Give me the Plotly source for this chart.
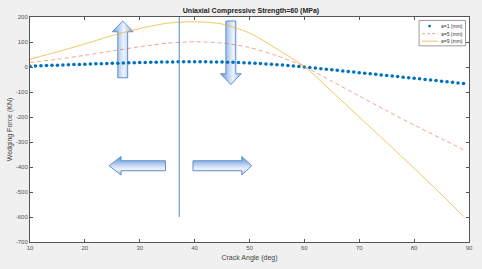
import plotly.graph_objects as go

# ---- data ----
angle_a1 = list(range(10, 90))
force_a1 = [3, 4, 5, 6, 7, 7, 8, 9, 10, 10,
            11, 12, 13, 13, 14, 15, 15, 16, 17, 17,
            18, 18, 19, 19, 20, 20, 20, 21, 21, 21,
            21, 21, 21, 20, 20, 20, 19, 19, 18, 17,
            16, 15, 14, 12, 11, 9, 8, 6, 4, 2,
            0, -2, -4, -7, -9, -11, -13, -16, -18, -20,
            -23, -25, -27, -29, -32, -34, -36, -38, -41, -43,
            -45, -47, -50, -52, -54, -57, -59, -61, -64, -66]

angle_lines = [10, 15, 20, 25, 30, 35, 40, 45, 50, 55, 60, 65, 70, 75, 80, 85, 89]
force_a5 = [18, 31, 47, 64, 81, 95, 101, 96, 78, 45, 2, -57, -116, -175, -232, -287, -331]
force_a9 = [31, 61, 92, 126, 154, 175, 181, 172, 136, 72, 2, -98, -200, -302, -405, -510, -598]

series_names = ["a=1 (mm)", "a=5 (mm)", "a=9 (mm)"]
title_text = "Uniaxial Compressive Strength=60 (MPa)"
x_title = "Crack Angle (deg)"
y_title = "Wedging Force (KN)"
x_ticks = [10, 20, 30, 40, 50, 60, 70, 80, 90]
y_ticks = [200, 100, 0, -100, -200, -300, -400, -500, -600, -700]
y_ticklabels = ["200", "100", "0", "-100", "-200", "-300", "-400", "-500", "-600", "-700"]

# vertical marker line
vline_x = 37.2
vline_y = [200, -600]

# decorative block arrows (outline polygons in data units)
arrow_up = ([26.9, 28.8, 27.8, 27.8, 26.0, 26.0, 25.0, 26.9],
            [184, 141, 141, -43, -43, 141, 141, 184])
arrow_down = ([45.7, 47.5, 47.5, 48.5, 46.6, 44.7, 45.7, 45.7],
              [184, 184, -27, -27, -70, -27, -27, 184])
arrow_left = ([24.4, 26.6, 26.6, 34.7, 34.7, 26.6, 26.6, 24.4],
              [-395, -358, -375, -375, -415, -415, -432, -395])
arrow_right = ([39.7, 48.6, 48.6, 50.4, 48.6, 48.6, 39.7, 39.7],
               [-375, -375, -358, -395, -432, -415, -415, -375])

blue = "#0072BD"
orange = "#D95319"
yellow = "#EDB120"
font_family = "Liberation Sans, Arial"

W, H = 482, 269
ML, MR, MT, MB = 29, 9, 17, 22
PW, PH = W - ML - MR, H - MT - MB


def px_x(px):
    return (px - ML) / PW


def px_y(py):
    return (H - MB - py) / PH


fig = go.Figure()

arrow_scale = [[0, "#7ea6e2"], [0.5, "#eef4fd"], [1, "#7ea6e2"]]
for (ax, ay), orient in [(arrow_up, "horizontal"), (arrow_down, "horizontal"),
                         (arrow_left, "vertical"), (arrow_right, "vertical")]:
    if orient == "horizontal":
        start, stop = min(ax), max(ax)
    else:
        start, stop = min(ay), max(ay)
    fig.add_trace(go.Scatter(
        x=ax, y=ay, mode="lines", fill="toself",
        fillgradient=dict(type=orient, colorscale=arrow_scale, start=start, stop=stop),
        line=dict(color="#5f8fd3", width=1),
        showlegend=False, hoverinfo="skip"))

fig.add_trace(go.Scatter(
    x=angle_a1, y=force_a1, mode="markers", name=series_names[0],
    marker=dict(color=blue, size=3.6, line=dict(width=0)), showlegend=False))
fig.add_trace(go.Scatter(
    x=angle_lines, y=force_a5, mode="lines", name=series_names[1],
    line=dict(color=orange, width=1, dash="4px,3px", shape="spline", smoothing=0.7),
    opacity=0.5, showlegend=False))
fig.add_trace(go.Scatter(
    x=angle_lines, y=force_a9, mode="lines", name=series_names[2],
    line=dict(color=yellow, width=1, shape="spline", smoothing=0.7),
    opacity=0.7, showlegend=False))

fig.add_trace(go.Scatter(
    x=[vline_x, vline_x], y=vline_y, mode="lines",
    line=dict(color="#4a8ccc", width=1), showlegend=False, hoverinfo="skip"))

# ---- compact MATLAB-style legend drawn by hand ----
shapes = [dict(type="rect", xref="paper", yref="paper",
               x0=px_x(422.5), x1=px_x(469.5), y0=px_y(46.5), y1=px_y(20.5),
               fillcolor="white", line=dict(color="#9a9a9a", width=1), layer="above")]
annotations = []
entry_y = [26.3, 34.0, 41.7]
styles = [("marker", blue, None, 0.9), ("line", orange, "dash", 0.5), ("line", yellow, None, 0.7)]
for name, ey, (kind, col, dash, op) in zip(series_names, entry_y, styles):
    if kind == "marker":
        shapes.append(dict(type="circle", xref="paper", yref="paper",
                           x0=px_x(431.8), x1=px_x(434.6), y0=px_y(ey + 1.4), y1=px_y(ey - 1.4),
                           fillcolor=col, line=dict(width=0), layer="above"))
    else:
        shapes.append(dict(type="line", xref="paper", yref="paper",
                           x0=px_x(425.5), x1=px_x(441.5), y0=px_y(ey), y1=px_y(ey),
                           line=dict(color=col, width=1, dash="3px,2px" if dash else "solid"),
                           opacity=op, layer="above"))
    annotations.append(dict(xref="paper", yref="paper", x=px_x(468.5), y=px_y(ey),
                            xanchor="right", yanchor="middle", showarrow=False, text=name,
                            font=dict(family=font_family, size=5, color="#333333")))

axis_common = dict(
    showgrid=False, zeroline=False, showline=True, linecolor="#555555", linewidth=1,
    mirror="ticks", ticks="inside", ticklen=3, tickcolor="#555555",
    tickfont=dict(family=font_family, size=6, color="#555555"))

fig.update_xaxes(range=[10, 90], tickvals=x_ticks,
                 title=dict(text=x_title, standoff=4,
                            font=dict(family=font_family, size=7, color="#444444")),
                 **axis_common)
fig.update_yaxes(range=[-700, 200], tickvals=y_ticks, ticktext=y_ticklabels,
                 title=dict(text=y_title, standoff=2,
                            font=dict(family=font_family, size=7, color="#444444")),
                 **axis_common)

fig.update_layout(
    width=W, height=H,
    margin=dict(l=ML, r=MR, t=MT, b=MB),
    paper_bgcolor="#f0f0f0", plot_bgcolor="white",
    title=dict(text="<b>" + title_text + "</b>", x=0.5207, xanchor="center",
               y=0.96, yanchor="middle",
               font=dict(family=font_family, size=7, color="#222222")),
    shapes=shapes, annotations=annotations,
    showlegend=False,
)

fig.write_html("out.html")
